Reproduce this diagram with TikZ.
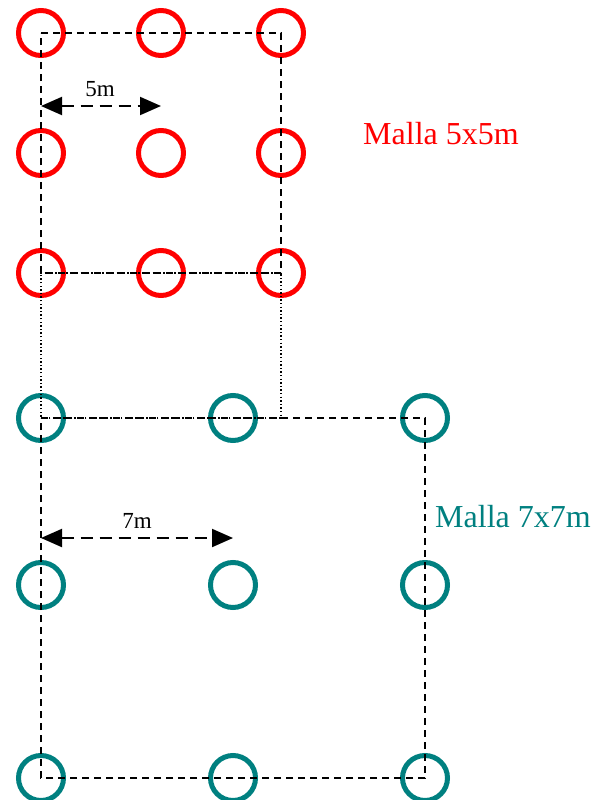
\documentclass[tikz,border=0pt]{standalone}
\usepackage{fontspec}
\setmainfont{Liberation Serif}
\usetikzlibrary{arrows.meta}
\definecolor{redc}{HTML}{FF0000}
\definecolor{tealc}{HTML}{008080}
\begin{document}
\begin{tikzpicture}[x=1pt,y=-1pt,
  ring/.style={circle,draw,line width=5pt,minimum size=45pt,inner sep=0pt},
  redring/.style={ring,draw=redc},
  tealring/.style={ring,draw=tealc},
  dashline/.style={line width=2pt,dash pattern=on 7pt off 5pt},
  dotline/.style={line width=1.4pt,dash pattern=on 1.4pt off 2.2pt},
  dimarrow/.style={line width=2pt,dash pattern=on 12pt off 7pt,
    {Triangle[length=21pt,width=18pt]}-{Triangle[length=21pt,width=18pt]}},
  lbl/.style={font=\fontsize{23}{23}\selectfont,inner sep=0pt},
  title/.style={font=\fontsize{32}{32}\selectfont,inner sep=0pt,anchor=base west}]
\useasboundingbox (0,0) rectangle (605,800);
% red grid
\node[redring] (r11) at (41,33) {};
\node[redring] (r12) at (161,33) {};
\node[redring] (r13) at (281,33) {};
\node[redring] (r21) at (41,153) {};
\node[redring] (r22) at (161,153) {};
\node[redring] (r23) at (281,153) {};
\node[redring] (r31) at (41,273) {};
\node[redring] (r32) at (161,273) {};
\node[redring] (r33) at (281,273) {};
% teal grid
\node[tealring] (t11) at (41,418) {};
\node[tealring] (t12) at (233,418) {};
\node[tealring] (t13) at (425,418) {};
\node[tealring] (t21) at (41,585) {};
\node[tealring] (t22) at (233,585) {};
\node[tealring] (t23) at (425,585) {};
\node[tealring] (t31) at (41,778) {};
\node[tealring] (t32) at (233,778) {};
\node[tealring] (t33) at (425,778) {};
% connecting corner of dotted rectangle
\coordinate (c1) at (281,418);
% rectangles
\draw[dashline] (r11.center) -- (r13.center) -- (r33.center) -- (r31.center) -- cycle;
\draw[dotline] (r31.center) -- (r33.center) -- (c1) -- (t11.center) -- cycle;
\draw[dashline] (t11.center) -- (t13.center) -- (t33.center) -- (t31.center) -- cycle;
% dimension arrows
\coordinate (a1) at (41,106);
\coordinate (a2) at (161,106);
\draw[dimarrow] (a1) -- (a2);
\node[lbl] (l5) at (100,89) {5m};
\coordinate (b1) at (41,538);
\coordinate (b2) at (233,538);
\draw[dimarrow] (b1) -- (b2);
\node[lbl] (l7) at (137,521) {7m};
% titles
\node[title,text=redc] (m5) at (363,144) {Malla 5x5m};
\node[title,text=tealc] (m7) at (435,527) {Malla 7x7m};
\end{tikzpicture}
\end{document}
